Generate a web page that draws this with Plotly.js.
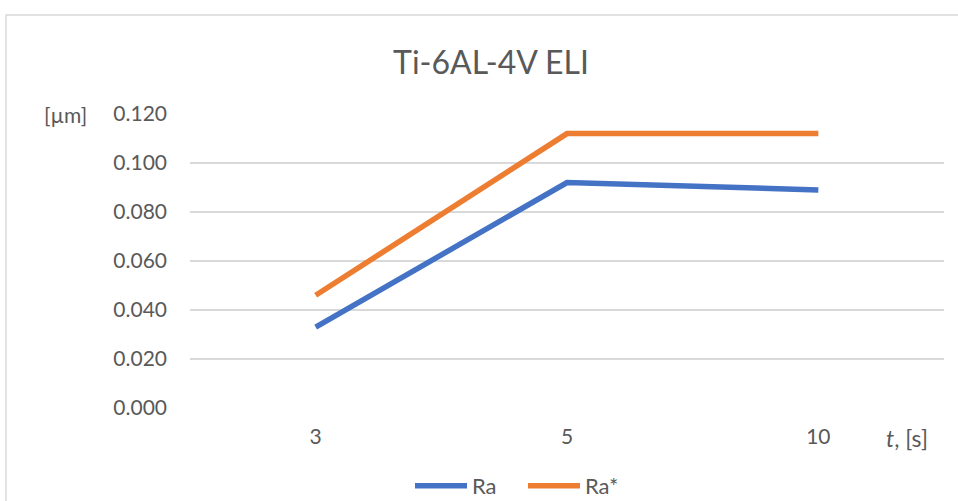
<!DOCTYPE html>
<html>
<head>
<meta charset="utf-8">
<script src="https://cdn.plot.ly/plotly-3.0.1.min.js"></script>
<style>
  html, body { margin: 0; padding: 0; background: #ffffff; }
  #chart { width: 958px; height: 501px; }
</style>
</head>
<body>
<div id="chart"></div>
<script>
// ---- data ----
const categories = ['3', '5', '10'];
const raValues = [0.033, 0.092, 0.089];
const raStarValues = [0.046, 0.112, 0.112];
const seriesNames = ['Ra', 'Ra*'];
const yTickValues = [0, 0.02, 0.04, 0.06, 0.08, 0.10, 0.12];
const yTickLabels = ['0.000', '0.020', '0.040', '0.060', '0.080', '0.100', '0.120'];

const FONT = 'Lato, "Open Sans", "DejaVu Sans", sans-serif';
const TXT = '#595959';

const traces = [
  {
    x: categories, y: raValues, name: seriesNames[0], type: 'scatter', mode: 'lines',
    line: { color: '#4472C4', width: 5.5 }
  },
  {
    x: categories, y: raStarValues, name: seriesNames[1], type: 'scatter', mode: 'lines',
    line: { color: '#ED7D31', width: 5.5 }
  }
];

const W = 958, H = 501;
const L = 190, R = 14, T = 114, B = 93;
const PW = W - L - R, PH = H - T - B;

const layout = {
  width: W, height: H,
  margin: { l: L, r: R, t: T, b: B, autoexpand: false },
  paper_bgcolor: '#ffffff',
  plot_bgcolor: '#ffffff',
  font: { family: FONT, color: TXT, size: 21 },
  title: {
    text: 'Ti-6AL-4V ELI',
    font: { family: FONT, size: 32, color: TXT },
    xref: 'container', x: 491 / W, xanchor: 'center',
    yref: 'container', y: 1 - 63 / H, yanchor: 'middle'
  },
  xaxis: {
    type: 'category',
    range: [-0.5, 2.5],
    showgrid: false,
    zeroline: false,
    showline: false,
    ticks: '',
    ticklabelstandoff: 14,
    tickfont: { family: FONT, size: 21, color: TXT },
    automargin: false,
    fixedrange: true
  },
  yaxis: {
    range: [0, 0.12],
    tickvals: yTickValues,
    ticktext: yTickLabels,
    showgrid: true,
    gridcolor: '#d9d9d9',
    gridwidth: 2,
    zeroline: false,
    showline: false,
    ticks: '',
    ticklabelstandoff: 22,
    tickfont: { family: FONT, size: 21, color: TXT },
    automargin: false,
    fixedrange: true
  },
  showlegend: true,
  legend: {
    orientation: 'h',
    x: (410 - L) / PW, xanchor: 'left',
    y: -(486 - (T + PH)) / PH, yanchor: 'middle',
    font: { family: FONT, size: 22, color: TXT },
    itemwidth: 52,
    entrywidth: 46,
    entrywidthmode: 'pixels',
    bgcolor: 'rgba(0,0,0,0)',
    tracegroupgap: 0
  },
  annotations: [
    {
      text: '[µm]', showarrow: false,
      xref: 'paper', x: (89 - L) / PW, xanchor: 'right',
      yref: 'y', y: 0.12, yanchor: 'middle',
      font: { family: FONT, size: 21, color: TXT }
    },
    {
      text: '<i>t</i>, [s]', showarrow: false,
      xref: 'paper', x: (884 - L) / PW, xanchor: 'left',
      yref: 'paper', y: -(438 - (T + PH)) / PH, yanchor: 'middle',
      font: { family: FONT, size: 23, color: TXT }
    }
  ],
  shapes: [
    {
      type: 'rect', xref: 'paper', yref: 'paper',
      x0: (6 - L) / PW, x1: (W + 20 - L) / PW,
      y0: -(H + 20 - (T + PH)) / PH, y1: 1 + (T - 15) / PH,
      line: { color: '#d9d9d9', width: 1.5 },
      fillcolor: 'rgba(0,0,0,0)',
      layer: 'below'
    }
  ]
};

Plotly.newPlot('chart', traces, layout, { displayModeBar: false, staticPlot: true });
</script>
</body>
</html>
